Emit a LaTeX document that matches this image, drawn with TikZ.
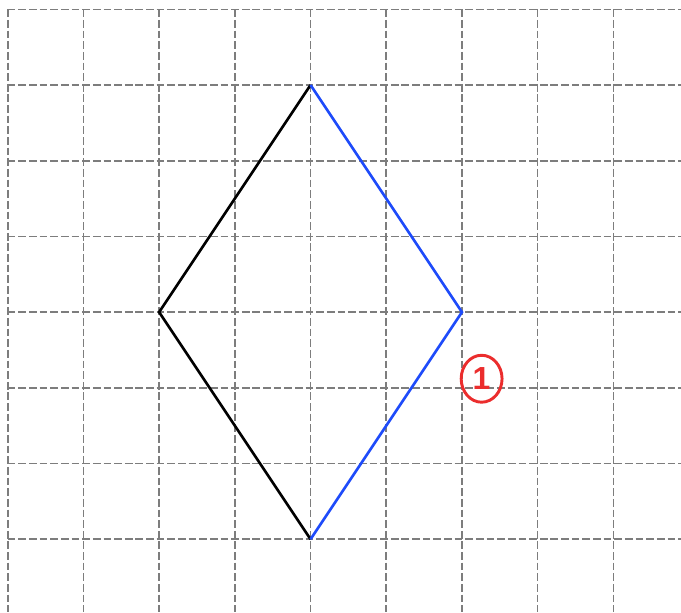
\documentclass[tikz,border=0pt]{standalone}
\usepackage{xcolor}
\usepackage{fontspec}
\newfontfamily\markfont{Liberation Sans}
\usetikzlibrary{shapes.geometric}
\definecolor{gridgray}{RGB}{125, 125, 125}
\definecolor{penblue}{RGB}{30, 75, 250}
\definecolor{penred}{RGB}{235, 45, 45}

\begin{document}
\begin{tikzpicture}[
    gridline/.style={gridgray, line width=0.6pt, dash pattern=on 2.9pt off 1.1pt},
    side/.style={line width=1pt, line join=miter}]
    \useasboundingbox (-0.102, -0.964) rectangle (8.894, 7.123);

    % Grid
    \foreach \i in {0,...,8}
        \draw[gridline] (\i, 7) -- (\i, -0.964);
    \foreach \j in {0,...,7}
        \draw[gridline] (0, \j) -- (8.894, \j);

    % Corners
    \coordinate (top) at (4, 6);
    \coordinate (left) at (2, 3);
    \coordinate (bottom) at (4, 0);
    \coordinate (right) at (6, 3);

    % Sides
    \draw[side, black] (top) -- (left) -- (bottom);
    \draw[side, penblue] (top) -- (right) -- (bottom);

    % Mark
    \node[ellipse, draw=penred, line width=1.1pt, minimum width=0.54cm, minimum height=0.62cm, inner sep=0pt, text=penred, font=\markfont\bfseries\large] (mark) at (6.26, 2.12) {1};
\end{tikzpicture}
\end{document}
